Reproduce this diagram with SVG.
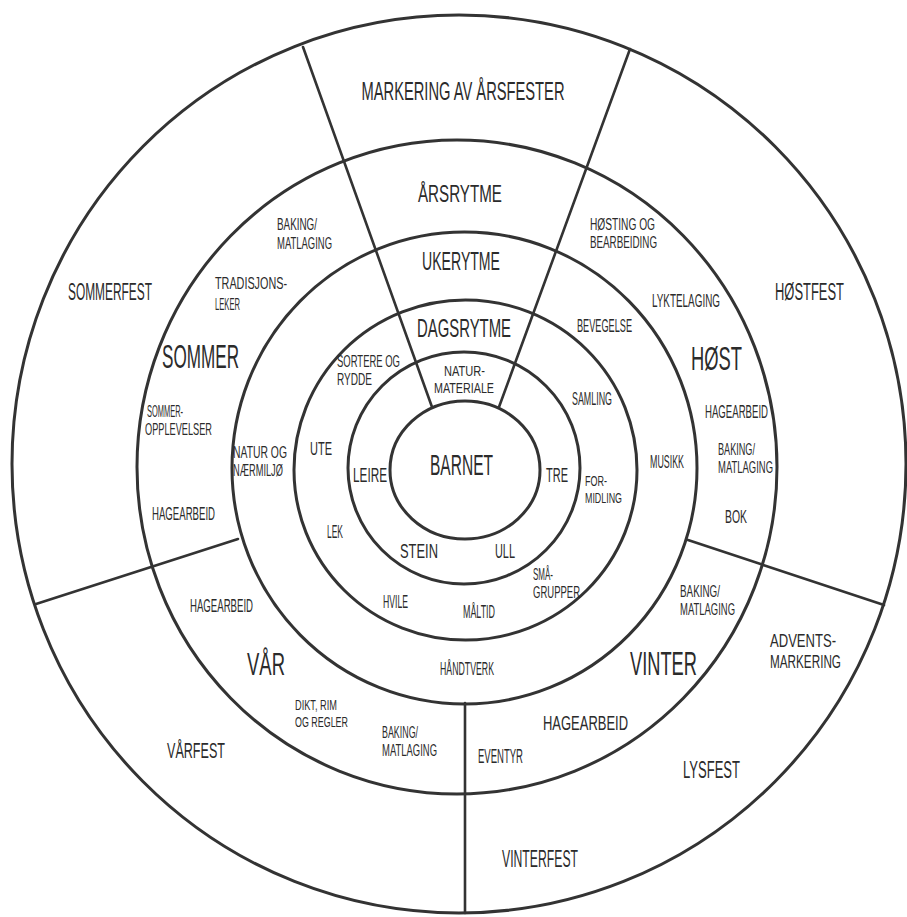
<svg xmlns="http://www.w3.org/2000/svg" width="907" height="917" viewBox="0 0 907 917">
<style>
.ring{fill:none;stroke:#333;stroke-width:3}
.div{fill:none;stroke:#333;stroke-width:2.6;stroke-linecap:round}
text{font-family:"Liberation Sans",Arial,sans-serif;fill:#2b2b2b}
.m{text-anchor:middle}
.s{text-anchor:start}
</style>
<rect width="907" height="917" fill="#fff"/>
<g id="rings">
<ellipse id="ring-outer" class="ring" cx="459" cy="464" rx="447" ry="449"/>
<ellipse id="ring-arsrytme" class="ring" cx="457" cy="467" rx="320" ry="327"/>
<ellipse id="ring-ukerytme" class="ring" cx="464.5" cy="468" rx="232.5" ry="236"/>
<ellipse id="ring-dagsrytme" class="ring" cx="465.5" cy="470" rx="171.5" ry="170"/>
<ellipse id="ring-natur" class="ring" cx="464" cy="468" rx="116" ry="116"/>
<ellipse id="ring-barnet" class="ring" cx="465" cy="470" rx="75" ry="69"/>
</g>
<g id="connectors">
<line class="div" x1="432" y1="407" x2="303" y2="47"/>
<line class="div" x1="499" y1="407" x2="630" y2="49"/>
<line class="div" x1="238" y1="539" x2="36" y2="604"/>
<line class="div" x1="688" y1="540" x2="884" y2="605"/>
<line class="div" x1="465" y1="703" x2="465" y2="913"/>
</g>
<g id="top-wedge">
<text class="m" x="463" y="100" font-size="25" textLength="203" lengthAdjust="spacingAndGlyphs">MARKERING AV ÅRSFESTER</text>
<text class="m" x="460" y="202" font-size="23" textLength="84" lengthAdjust="spacingAndGlyphs">ÅRSRYTME</text>
<text class="m" x="461" y="270" font-size="25" textLength="78" lengthAdjust="spacingAndGlyphs">UKERYTME</text>
<text class="m" x="464" y="337" font-size="25" textLength="94" lengthAdjust="spacingAndGlyphs">DAGSRYTME</text>
<text class="m" transform="translate(464.5,376) scale(0.6,1)" font-size="15"><tspan x="0" y="0" textLength="68.3" lengthAdjust="spacingAndGlyphs">NATUR-</tspan><tspan x="-0.8" y="17" textLength="100" lengthAdjust="spacingAndGlyphs">MATERIALE</tspan></text>
</g>
<g id="barnet">
<text class="m" x="461.5" y="475" font-size="30" textLength="63" lengthAdjust="spacingAndGlyphs">BARNET</text>
</g>
<g id="naturmateriale">
<text class="m" x="370" y="482" font-size="21" textLength="34" lengthAdjust="spacingAndGlyphs">LEIRE</text>
<text class="m" x="557" y="482" font-size="20" textLength="22" lengthAdjust="spacingAndGlyphs">TRE</text>
<text class="m" x="419" y="558" font-size="21" textLength="38" lengthAdjust="spacingAndGlyphs">STEIN</text>
<text class="m" x="505" y="558" font-size="21" textLength="20" lengthAdjust="spacingAndGlyphs">ULL</text>
</g>
<g id="dagsrytme">
<text class="s" transform="translate(337,367) scale(0.6,1)" font-size="16"><tspan x="0" y="0" textLength="105" lengthAdjust="spacingAndGlyphs">SORTERE OG</tspan><tspan x="0" y="18" textLength="58.3" lengthAdjust="spacingAndGlyphs">RYDDE</tspan></text>
<text class="m" x="321" y="455" font-size="18" textLength="22" lengthAdjust="spacingAndGlyphs">UTE</text>
<text class="m" x="335" y="538" font-size="18" textLength="16" lengthAdjust="spacingAndGlyphs">LEK</text>
<text class="m" x="395.5" y="608" font-size="18" textLength="25" lengthAdjust="spacingAndGlyphs">HVILE</text>
<text class="m" x="479" y="618" font-size="18" textLength="32" lengthAdjust="spacingAndGlyphs">MÅLTID</text>
<text class="s" transform="translate(533,580) scale(0.55,1)" font-size="16"><tspan x="0" y="0" textLength="36.4" lengthAdjust="spacingAndGlyphs">SMÅ-</tspan><tspan x="0" y="18" textLength="85.5" lengthAdjust="spacingAndGlyphs">GRUPPER</tspan></text>
<text class="s" transform="translate(585,486) scale(0.58,1)" font-size="15"><tspan x="0" y="0" textLength="37.9" lengthAdjust="spacingAndGlyphs">FOR-</tspan><tspan x="0" y="17" textLength="63.8" lengthAdjust="spacingAndGlyphs">MIDLING</tspan></text>
<text class="m" x="592" y="405" font-size="19" textLength="40" lengthAdjust="spacingAndGlyphs">SAMLING</text>
<text class="m" x="604.5" y="332" font-size="19" textLength="55" lengthAdjust="spacingAndGlyphs">BEVEGELSE</text>
</g>
<g id="ukerytme">
<text class="s" transform="translate(233,458) scale(0.6,1)" font-size="16"><tspan x="0" y="0" textLength="90" lengthAdjust="spacingAndGlyphs">NATUR OG</tspan><tspan x="0" y="18" textLength="83.3" lengthAdjust="spacingAndGlyphs">NÆRMILJØ</tspan></text>
<text class="m" x="667" y="468" font-size="19" textLength="34" lengthAdjust="spacingAndGlyphs">MUSIKK</text>
<text class="m" x="467" y="675" font-size="19" textLength="54" lengthAdjust="spacingAndGlyphs">HÅNDTVERK</text>
</g>
<g id="host">
<text class="s" transform="translate(590,230) scale(0.62,1)" font-size="16"><tspan x="0" y="0" textLength="104.8" lengthAdjust="spacingAndGlyphs">HØSTING OG</tspan><tspan x="0" y="18" textLength="108.1" lengthAdjust="spacingAndGlyphs">BEARBEIDING</tspan></text>
<text class="m" x="686" y="307" font-size="19" textLength="68" lengthAdjust="spacingAndGlyphs">LYKTELAGING</text>
<text class="m" x="716.5" y="370" font-size="34" textLength="51" lengthAdjust="spacingAndGlyphs">HØST</text>
<text class="m" x="736.5" y="418" font-size="19" textLength="63" lengthAdjust="spacingAndGlyphs">HAGEARBEID</text>
<text class="s" transform="translate(718,455) scale(0.58,1)" font-size="16"><tspan x="0" y="0" textLength="63.8" lengthAdjust="spacingAndGlyphs">BAKING/</tspan><tspan x="0" y="18" textLength="94.8" lengthAdjust="spacingAndGlyphs">MATLAGING</tspan></text>
<text class="m" x="736" y="523" font-size="19" textLength="22" lengthAdjust="spacingAndGlyphs">BOK</text>
<text class="m" x="809.5" y="300" font-size="23" textLength="69" lengthAdjust="spacingAndGlyphs">HØSTFEST</text>
</g>
<g id="sommer">
<text class="m" x="110" y="300" font-size="23" textLength="84" lengthAdjust="spacingAndGlyphs">SOMMERFEST</text>
<text class="s" transform="translate(277,230) scale(0.58,1)" font-size="16.5"><tspan x="0" y="0" textLength="69" lengthAdjust="spacingAndGlyphs">BAKING/</tspan><tspan x="0" y="19" textLength="94.8" lengthAdjust="spacingAndGlyphs">MATLAGING</tspan></text>
<text class="s" transform="translate(215,289) scale(0.6,1)" font-size="16"><tspan x="0" y="0" textLength="120" lengthAdjust="spacingAndGlyphs">TRADISJONS-</tspan><tspan x="0" y="21" textLength="41.7" lengthAdjust="spacingAndGlyphs">LEKER</tspan></text>
<text class="m" x="200.5" y="368" font-size="34" textLength="77" lengthAdjust="spacingAndGlyphs">SOMMER</text>
<text class="s" transform="translate(146,417) scale(0.55,1)" font-size="16"><tspan x="1.8" y="0" textLength="65.5" lengthAdjust="spacingAndGlyphs">SOMMER-</tspan><tspan x="-1.8" y="18" textLength="121.8" lengthAdjust="spacingAndGlyphs">OPPLEVELSER</tspan></text>
<text class="m" x="183.5" y="520" font-size="19" textLength="63" lengthAdjust="spacingAndGlyphs">HAGEARBEID</text>
</g>
<g id="var">
<text class="m" x="221.5" y="612" font-size="19" textLength="63" lengthAdjust="spacingAndGlyphs">HAGEARBEID</text>
<text class="m" x="266" y="675" font-size="32" textLength="38" lengthAdjust="spacingAndGlyphs">VÅR</text>
<text class="s" transform="translate(295,710) scale(0.6,1)" font-size="15"><tspan x="0" y="0" textLength="70" lengthAdjust="spacingAndGlyphs">DIKT, RIM</tspan><tspan x="0" y="17" textLength="88.3" lengthAdjust="spacingAndGlyphs">OG REGLER</tspan></text>
<text class="s" transform="translate(382,738) scale(0.58,1)" font-size="16"><tspan x="0" y="0" textLength="62.1" lengthAdjust="spacingAndGlyphs">BAKING/</tspan><tspan x="0" y="18" textLength="94.8" lengthAdjust="spacingAndGlyphs">MATLAGING</tspan></text>
<text class="m" x="196" y="758" font-size="22" textLength="58" lengthAdjust="spacingAndGlyphs">VÅRFEST</text>
</g>
<g id="vinter">
<text class="m" x="663.5" y="675" font-size="34" textLength="67" lengthAdjust="spacingAndGlyphs">VINTER</text>
<text class="s" transform="translate(680,597) scale(0.58,1)" font-size="16"><tspan x="0" y="0" textLength="69" lengthAdjust="spacingAndGlyphs">BAKING/</tspan><tspan x="0" y="18" textLength="94.8" lengthAdjust="spacingAndGlyphs">MATLAGING</tspan></text>
<text class="s" transform="translate(770,647) scale(0.62,1)" font-size="18.5"><tspan x="0" y="0" textLength="106.5" lengthAdjust="spacingAndGlyphs">ADVENTS-</tspan><tspan x="0" y="21" textLength="114.5" lengthAdjust="spacingAndGlyphs">MARKERING</tspan></text>
<text class="m" x="585.5" y="730" font-size="21" textLength="85" lengthAdjust="spacingAndGlyphs">HAGEARBEID</text>
<text class="m" x="500.5" y="763" font-size="21" textLength="45" lengthAdjust="spacingAndGlyphs">EVENTYR</text>
<text class="m" x="711.5" y="778" font-size="24" textLength="57" lengthAdjust="spacingAndGlyphs">LYSFEST</text>
<text class="m" x="540" y="867" font-size="23" textLength="76" lengthAdjust="spacingAndGlyphs">VINTERFEST</text>
</g>
</svg>
